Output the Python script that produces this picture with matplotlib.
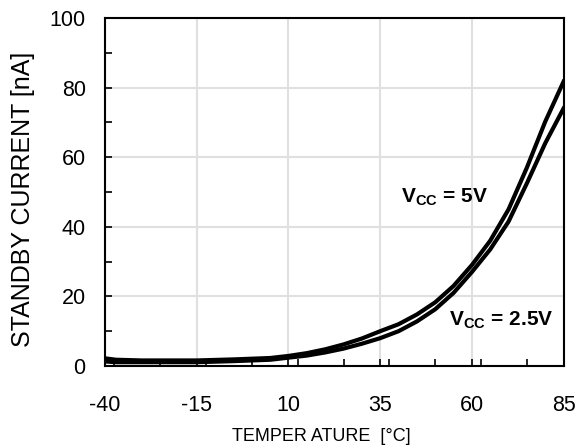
import matplotlib
matplotlib.use("Agg")
import matplotlib.pyplot as plt
from matplotlib.ticker import MultipleLocator

plt.rcParams['font.family'] = ['Liberation Sans', 'DejaVu Sans']
plt.rcParams['axes.unicode_minus'] = False
plt.rcParams['mathtext.fontset'] = 'custom'
plt.rcParams['mathtext.rm'] = 'Liberation Sans'
plt.rcParams['mathtext.bf'] = 'Liberation Sans:bold'

# Datos
temperatura = [-40, -37, -30, -20, -15, -5, 5, 10, 15, 20, 25, 30, 35, 40, 45, 50, 55, 60, 65, 70, 75, 80, 85]
corriente_5v = [2.2, 1.8, 1.6, 1.6, 1.6, 1.9, 2.3, 2.9, 3.7, 4.8, 6.2, 7.9, 10.0, 12.0, 14.8, 18.3, 23.0, 29.0, 36.0, 45.0, 57.0, 70.2, 81.7]
corriente_25v = [1.3, 1.1, 1.1, 1.1, 1.1, 1.4, 1.8, 2.4, 3.0, 3.9, 5.0, 6.4, 8.0, 10.0, 12.8, 16.3, 21.0, 27.0, 33.5, 41.5, 52.5, 64.0, 74.0]
xticks = [-40, -15, 10, 35, 60, 85]
yticks = [0, 20, 40, 60, 80, 100]

fig, ax = plt.subplots(figsize=(5.84, 4.48), dpi=100)
fig.subplots_adjust(left=0.18, right=0.965, top=0.96, bottom=0.183)

ax.plot(temperatura, corriente_5v, color='black', lw=3)
ax.plot(temperatura, corriente_25v, color='black', lw=3)

ax.set_xlim(-40, 85)
ax.set_ylim(0, 100)
ax.set_xticks(xticks)
ax.set_yticks(yticks)
ax.xaxis.set_minor_locator(MultipleLocator(12.5))
ax.yaxis.set_minor_locator(MultipleLocator(10))
ax.tick_params(which='both', direction='in', width=1.2, length=5, labelsize=15.5)
ax.tick_params(axis='x', pad=21)
ax.tick_params(axis='y', pad=14)
ax.grid(True, which='major', color='#e0e0e0', lw=1.5)
ax.set_axisbelow(True)
for s in ax.spines.values():
    s.set_linewidth(1.5)

ax.set_ylabel('STANDBY CURRENT [nA]', fontsize=18)
ax.set_xlabel('TEMPER ATURE  [°C]', fontsize=13)
ax.yaxis.set_label_coords(-0.153, 0.48)
ax.xaxis.set_label_coords(0.471, -0.178)

ax.text(52.5, 48.5, r'V$_\mathbf{CC}$ = 5V', fontsize=15, fontweight='bold', ha='center', va='center')
ax.text(68, 13.2, r'V$_\mathbf{CC}$ = 2.5V', fontsize=15, fontweight='bold', ha='center', va='center')

fig.savefig('out.png', dpi=100)
